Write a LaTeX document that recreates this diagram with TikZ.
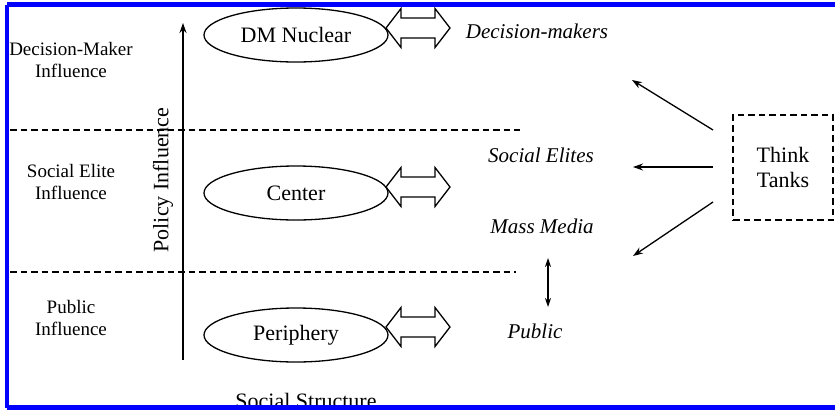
\documentclass[tikz,border=0pt]{standalone}
\usepackage{fontspec}
\setmainfont{Liberation Serif}
\usetikzlibrary{arrows.meta,shapes.geometric}
\tikzset{
  lbl/.style={align=center, font=\fontsize{19}{22}\selectfont, inner sep=0pt},
  ell/.style={ellipse, draw, line width=1.3pt, minimum width=184pt, minimum height=54pt, inner sep=0pt, font=\fontsize{22}{24}\selectfont},
  itl/.style={font=\fontsize{21}{24}\selectfont\itshape, inner sep=0pt},
  sep/.style={dash pattern=on 6.5pt off 4pt, line width=1.3pt},
  conn/.style={line width=1.3pt, -{Stealth[length=10pt,width=7pt]}},
  dbl/.style={line width=1.3pt, line join=miter},
  frame/.style={draw=blue, line width=5pt}
}
\begin{document}
\begin{tikzpicture}[x=1pt,y=-1pt]
\useasboundingbox (0,0) rectangle (835,410);
% left labels
\node[lbl] (dmi) at (71,60) {Decision-Maker\\Influence};
\node[lbl] (sei) at (71,182) {Social Elite\\Influence};
\node[lbl] (pui) at (71,318) {Public\\Influence};
% separators
\coordinate (s1a) at (10,130); \coordinate (s1b) at (520,130);
\coordinate (s2a) at (10,272); \coordinate (s2b) at (516,272);
\draw[sep] (s1a) -- (s1b);
\draw[sep] (s2a) -- (s2b);
% policy influence axis
\coordinate (pa) at (183,360); \coordinate (pb) at (183,23);
\draw[conn] (pa) -- (pb);
\node[rotate=90, font=\fontsize{22}{24}\selectfont, inner sep=0pt] (pol) at (163,180) {Policy Influence};
% ellipses
\node[ell] (dm) at (296,35) {DM Nuclear};
\node[ell] (ce) at (296,193) {Center};
\node[ell] (pe) at (296,335) {Periphery};
% double arrows
\foreach \c/\n in {28/a1,187/a2,327/a3}{
  \coordinate (\n) at (386,\c);
  \draw[dbl] (\n) -- ++(15,-19.5) -- ++(0,9.5) -- ++(34,0) -- ++(0,-9.5) -- ++(15,19.5)
    -- ++(-15,19.5) -- ++(0,-9.5) -- ++(-34,0) -- ++(0,9.5) -- cycle;
}
% italic labels
\node[itl] (dec) at (537,31) {Decision-makers};
\node[itl] (soc) at (541,155) {Social Elites};
\node[itl] (mas) at (542,226) {Mass Media};
\node[itl] (pub) at (535,331) {Public};
\coordinate (m1) at (548,258); \coordinate (m2) at (548,307);
\draw[line width=1.3pt, {Stealth[length=9pt,width=6pt]}-{Stealth[length=9pt,width=6pt]}] (m1) -- (m2);
% think tanks
\node[draw, sep, minimum width=100pt, minimum height=105pt, inner sep=0pt, align=center,
      font=\fontsize{22}{25}\selectfont] (tt) at (783,167.5) {Think\\Tanks};
\coordinate (t1) at (713,130); \coordinate (e1) at (632,80);
\coordinate (t2) at (713,167); \coordinate (e2) at (633,167);
\coordinate (t3) at (713,202); \coordinate (e3) at (633,256);
\draw[conn] (t1) -- (e1);
\draw[conn] (t2) -- (e2);
\draw[conn] (t3) -- (e3);
% social structure
\node[font=\fontsize{22}{24}\selectfont, anchor=base, inner sep=0pt] (ss) at (306,408) {Social Structure};
% blue frame
\coordinate (f1) at (7,407.5); \coordinate (f2) at (7,4.5);
\coordinate (f3) at (835,4.5); \coordinate (f4) at (835,407.5);
\draw[draw=blue, line width=5pt] (f4) -- (f1);
\draw[draw=blue, line width=4pt] (f1) -- (f2);
\draw[draw=blue, line width=5pt] (f2) -- (f3);
\end{tikzpicture}
\end{document}
